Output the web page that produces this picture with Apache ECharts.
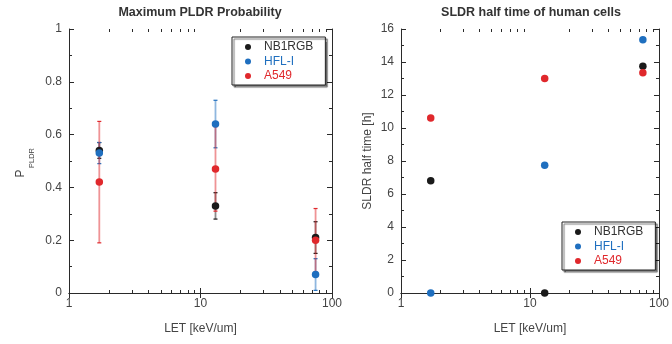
<!DOCTYPE html>
<html>
<head>
<meta charset="utf-8">
<script src="https://cdn.jsdelivr.net/npm/echarts@6/dist/echarts.min.js"></script>
<style>html,body{margin:0;padding:0;background:#fff}#c{width:672px;height:344px}</style>
</head>
<body>
<div id="c"></div>
<script>
// ---- data ----
const seriesNames = ['NB1RGB', 'HFL-I', 'A549'];
const seriesColors = ['#1a1a1a', '#1f6fbf', '#e0282c'];
const letValues = [1.7, 13, 75];          // LET [keV/um]

// left panel: maximum PLDR probability with error bars
const pNB1RGB = [0.54, 0.33, 0.21];
const pNB1RGBLow = [0.51, 0.28, 0.15];
const pNB1RGBHigh = [0.57, 0.38, 0.27];
const pHFL = [0.53, 0.64, 0.07];
const pHFLLow = [0.49, 0.55, 0.01];
const pHFLHigh = [0.57, 0.73, 0.13];
const pA549 = [0.42, 0.47, 0.20];
const pA549Low = [0.19, 0.31, 0.08];
const pA549High = [0.65, 0.63, 0.32];

// right panel: SLDR half time [h]
const tNB1RGB = [6.8, 0, 13.75];
const tHFL = [0, 7.75, 15.35];
const tA549 = [10.6, 13.0, 13.35];

// minor log ticks
const logMinorTicks = [2, 3, 4, 5, 6, 7, 8, 9, 20, 30, 40, 50, 60, 70, 80, 90];

// ---- build ----
const axisColor = '#2a2a2a';
const labelColor = '#444';
const fontFam = '"Liberation Sans", Arial, sans-serif';

function pairs(xs, ys) { return xs.map((x, i) => [x, ys[i]]); }
function triples(xs, lo, hi) { return xs.map((x, i) => [x, lo[i], hi[i]]); }

function hexToRgba(hex, a) {
  const n = parseInt(hex.slice(1), 16);
  return 'rgba(' + ((n >> 16) & 255) + ',' + ((n >> 8) & 255) + ',' + (n & 255) + ',' + a + ')';
}

function errorSeries(name, color, data) {
  return {
    type: 'custom', name: name, xAxisIndex: 0, yAxisIndex: 0, clip: false, silent: true,
    data: data, encode: { x: 0, y: [1, 2] }, z: 2,
    renderItem: function (params, api) {
      const x = api.value(0);
      const pLo = api.coord([x, api.value(1)]);
      const pHi = api.coord([x, api.value(2)]);
      const w = 2;
      return {
        type: 'group',
        children: [
          { type: 'line', shape: { x1: pHi[0], y1: pHi[1], x2: pLo[0], y2: pLo[1] },
            style: { stroke: hexToRgba(color, 0.5), lineWidth: 1.8 } },
          { type: 'line', shape: { x1: pHi[0] - w, y1: pHi[1], x2: pHi[0] + w, y2: pHi[1] },
            style: { stroke: color, lineWidth: 1.2 } },
          { type: 'line', shape: { x1: pLo[0] - w, y1: pLo[1], x2: pLo[0] + w, y2: pLo[1] },
            style: { stroke: color, lineWidth: 1.2 } }
        ]
      };
    }
  };
}

function minorTickSeries(xIdx, yIdx) {
  return {
    type: 'custom', name: 'minor' + xIdx, xAxisIndex: xIdx, yAxisIndex: yIdx, clip: false, silent: true,
    data: logMinorTicks.map(v => [v, 0]), z: 1,
    renderItem: function (params, api) {
      const cs = params.coordSys;
      const x = Math.round(api.coord([api.value(0), 0])[0]) + 0.5;
      const b = cs.y + cs.height, t = cs.y, L = 3;
      return {
        type: 'group',
        children: [
          { type: 'line', shape: { x1: x, y1: b, x2: x, y2: b - L }, style: { stroke: axisColor, lineWidth: 1 } },
          { type: 'line', shape: { x1: x, y1: t, x2: x, y2: t + L }, style: { stroke: axisColor, lineWidth: 1 } }
        ]
      };
    }
  };
}

function scatter(name, color, data, xIdx, yIdx, z) {
  return {
    type: 'scatter', name: name, xAxisIndex: xIdx, yAxisIndex: yIdx, clip: false,
    symbol: 'circle', symbolSize: 7.5, data: data, z: z,
    itemStyle: { color: color, opacity: 1 }
  };
}

function xAxisDef(gridIndex, pos, showLabel) {
  return {
    type: 'log', logBase: 10, min: 1, max: 100, gridIndex: gridIndex, position: pos,
    axisLine: { show: true, lineStyle: { color: axisColor, width: 1 } },
    axisTick: { show: true, inside: true, length: 5, lineStyle: { color: axisColor } },
    axisLabel: { show: showLabel, color: labelColor, fontSize: 12, fontFamily: fontFam, margin: 5 },
    splitLine: { show: false },
    name: showLabel ? 'LET [keV/um]' : '', nameLocation: 'middle', nameGap: 30,
    nameTextStyle: { color: labelColor, fontSize: 12, fontFamily: fontFam }
  };
}

function yAxisDef(gridIndex, pos, max, interval, showLabel, name) {
  return {
    type: 'value', min: 0, max: max, interval: interval, gridIndex: gridIndex, position: pos,
    axisLine: { show: true, lineStyle: { color: axisColor, width: 1 } },
    axisTick: { show: true, inside: true, length: 5, lineStyle: { color: axisColor } },
    minorTick: { show: true, splitNumber: 2, length: 3, lineStyle: { color: axisColor } },
    axisLabel: { show: showLabel, color: labelColor, fontSize: 12, fontFamily: fontFam, margin: 7 },
    splitLine: { show: false },
    name: name || '', nameLocation: 'middle', nameGap: 27, nameRotate: 90,
    nameTextStyle: { color: labelColor, fontSize: 12, fontFamily: fontFam }
  };
}

function legendDef(left, top) {
  return {
    orient: 'vertical', left: left, top: top,
    data: seriesNames.map((n, i) => ({ name: n, icon: 'circle',
      textStyle: { color: i === 0 ? '#333' : seriesColors[i] } })),
    itemWidth: 22, itemHeight: 6, itemGap: 2.5, symbolKeepAspect: true,
    padding: [4, 12, 3, 13],
    backgroundColor: '#fff', borderColor: '#222', borderWidth: 1,
    shadowColor: 'rgba(0,0,0,0.55)', shadowBlur: 1, shadowOffsetX: 2, shadowOffsetY: 2,
    textStyle: { fontSize: 12, fontFamily: fontFam },
    selectedMode: false
  };
}

const option = {
  animation: false,
  backgroundColor: '#fff',
  title: [
    { text: 'Maximum PLDR Probability', left: 200, top: 6, textAlign: 'center', padding: 0,
      textStyle: { fontSize: 12.5, fontWeight: 'bold', color: '#333', fontFamily: fontFam } },
    { text: 'SLDR half time of human cells', left: 531, top: 6, textAlign: 'center', padding: 0,
      textStyle: { fontSize: 12.5, fontWeight: 'bold', color: '#333', fontFamily: fontFam } }
  ],
  grid: [
    { left: 69, top: 29, width: 263, height: 264 },
    { left: 401, top: 29, width: 264, height: 264 }
  ],
  xAxis: [xAxisDef(0, 'bottom', true), xAxisDef(0, 'top', false), xAxisDef(1, 'bottom', true), xAxisDef(1, 'top', false)],
  yAxis: [
    yAxisDef(0, 'left', 1, 0.2, true, ''),
    yAxisDef(0, 'right', 1, 0.2, false, ''),
    yAxisDef(1, 'left', 16, 2, true, 'SLDR half time [h]'),
    yAxisDef(1, 'right', 16, 2, false, '')
  ],
  legend: [legendDef(232, 37), legendDef(562, 222)],
  graphic: [
    { type: 'text', x: 20.5, y: 177.5, rotation: Math.PI / 2, silent: true,
      style: { text: 'P', fill: labelColor, fontSize: 12, fontFamily: fontFam, align: 'left', verticalAlign: 'middle' } },
    { type: 'text', x: 31.5, y: 168, rotation: Math.PI / 2, silent: true,
      style: { text: 'PLDR', fill: labelColor, fontSize: 7.5, fontFamily: fontFam, align: 'left', verticalAlign: 'middle' } }
  ],
  series: [
    minorTickSeries(0, 0),
    minorTickSeries(2, 2),
    errorSeries('errNB1RGB', seriesColors[0], triples(letValues, pNB1RGBLow, pNB1RGBHigh)),
    errorSeries('errHFL', seriesColors[1], triples(letValues, pHFLLow, pHFLHigh)),
    errorSeries('errA549', seriesColors[2], triples(letValues, pA549Low, pA549High)),
    scatter(seriesNames[0], seriesColors[0], pairs(letValues, pNB1RGB), 0, 0, 3),
    scatter(seriesNames[1], seriesColors[1], pairs(letValues, pHFL), 0, 0, 4),
    scatter(seriesNames[2], seriesColors[2], pairs(letValues, pA549), 0, 0, 5),
    scatter(seriesNames[0], seriesColors[0], pairs(letValues, tNB1RGB), 2, 2, 3),
    scatter(seriesNames[1], seriesColors[1], pairs(letValues, tHFL), 2, 2, 4),
    scatter(seriesNames[2], seriesColors[2], pairs(letValues, tA549), 2, 2, 5)
  ]
};

const chart = echarts.init(document.getElementById('c'), null, { renderer: 'canvas' });
chart.setOption(option);
</script>
</body>
</html>
